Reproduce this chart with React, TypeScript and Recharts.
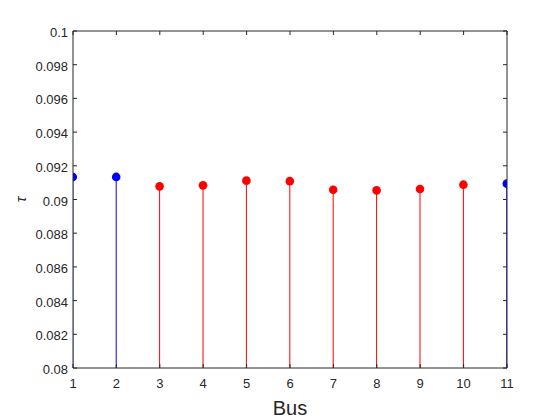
import React from 'react';
import { Bar, ComposedChart, XAxis, YAxis } from 'recharts';

// tau per bus
const buses = [1, 2, 3, 4, 5, 6, 7, 8, 9, 10, 11];
const tauValues = [0.09134, 0.09134, 0.09078, 0.09084, 0.09112, 0.09109, 0.09058, 0.09054, 0.09062, 0.09088, 0.09094];
const generatorBuses = [1, 2, 11];
const yTicks = [0.08, 0.082, 0.084, 0.086, 0.088, 0.09, 0.092, 0.094, 0.096, 0.098, 0.1];

const AXIS = '#262626';
const FONT = '"Liberation Sans", Arial, Helvetica, sans-serif';
const TICK_LEN = 4;

const rows = buses.map((bus, i) => ({ bus, tau: tauValues[i], gen: generatorBuses.includes(bus) }));

const fmtY = (v: number) => String(Number(v.toFixed(3)));

function BottomTick({ x, y, payload }: any) {
  return (
    <g>
      <line x1={x} x2={x} y1={y} y2={y - TICK_LEN} stroke={AXIS} />
      <text x={x} y={y + 20} textAnchor="middle" fontSize={13} fill={AXIS} fontFamily={FONT}>
        {payload.value}
      </text>
    </g>
  );
}

function TopTick({ x, y }: any) {
  return <line x1={x} x2={x} y1={y} y2={y + TICK_LEN} stroke={AXIS} />;
}

function LeftTick({ x, y, payload }: any) {
  return (
    <g>
      <line x1={x} x2={x + TICK_LEN} y1={y} y2={y} stroke={AXIS} />
      <text x={x - 5} y={y + 6} textAnchor="end" fontSize={13} fill={AXIS} fontFamily={FONT}>
        {fmtY(payload.value)}
      </text>
    </g>
  );
}

function RightTick({ x, y }: any) {
  return <line x1={x} x2={x - TICK_LEN} y1={y} y2={y} stroke={AXIS} />;
}

// stem: vertical line from baseline up to the value, filled dot on top
function Stem(props: any) {
  const { x, y, width, height, payload } = props;
  const cx = x + width / 2;
  const color = payload.gen ? '#0000FF' : '#FF0000';
  return (
    <g>
      <line x1={cx} x2={cx} y1={y} y2={y + height} stroke={color} strokeWidth={1} />
      <circle cx={cx} cy={y} r={4.3} fill={color} />
    </g>
  );
}

function TauLabel({ viewBox }: any) {
  const cx = viewBox.x + 20;
  const cy = viewBox.y + viewBox.height / 2;
  return (
    <text
      x={cx}
      y={cy}
      transform={`rotate(-90 ${cx} ${cy})`}
      textAnchor="middle"
      dominantBaseline="central"
      fontSize={15}
      fontStyle="italic"
      fill={AXIS}
      fontFamily={FONT}
    >
      τ
    </text>
  );
}

export default function App() {
  return (
    <div style={{ position: 'fixed', left: 0, top: 0, width: 560, height: 420, background: '#fff' }}>
      <ComposedChart width={560} height={420} data={rows} margin={{ top: 0, right: 0, bottom: 0, left: 0 }}>
        <XAxis
          xAxisId="b"
          type="number"
          dataKey="bus"
          domain={[1, 11]}
          ticks={buses}
          allowDataOverflow
          height={52}
          tickSize={0}
          tickMargin={0}
          tickLine={false}
          stroke={AXIS}
          tick={<BottomTick />}
          interval={0}
          label={{ value: 'Bus', position: 'insideBottom', offset: 5, fontSize: 20, fill: AXIS, fontFamily: FONT }}
        />
        <XAxis
          xAxisId="t"
          orientation="top"
          type="number"
          dataKey="bus"
          domain={[1, 11]}
          ticks={buses}
          allowDataOverflow
          height={31}
          tickSize={0}
          tickMargin={0}
          tickLine={false}
          stroke={AXIS}
          tick={<TopTick />}
          interval={0}
        />
        <YAxis
          yAxisId="l"
          type="number"
          domain={[0.08, 0.1]}
          ticks={yTicks}
          allowDataOverflow
          width={73}
          tickSize={0}
          tickMargin={0}
          tickLine={false}
          stroke={AXIS}
          tick={<LeftTick />}
          interval={0}
          label={<TauLabel />}
        />
        <YAxis
          yAxisId="r"
          orientation="right"
          type="number"
          domain={[0.08, 0.1]}
          ticks={yTicks}
          allowDataOverflow
          width={53}
          tickSize={0}
          tickMargin={0}
          tickLine={false}
          stroke={AXIS}
          tick={<RightTick />}
          interval={0}
        />
        {/* invisible series so the top/right frame axes get a scale */}
        <Bar xAxisId="t" yAxisId="r" dataKey="tau" barSize={1} shape={() => <g />} legendType="none" isAnimationActive={false} />
        <Bar xAxisId="b" yAxisId="l" dataKey="tau" barSize={1} shape={<Stem />} isAnimationActive={false} />
      </ComposedChart>
    </div>
  );
}
